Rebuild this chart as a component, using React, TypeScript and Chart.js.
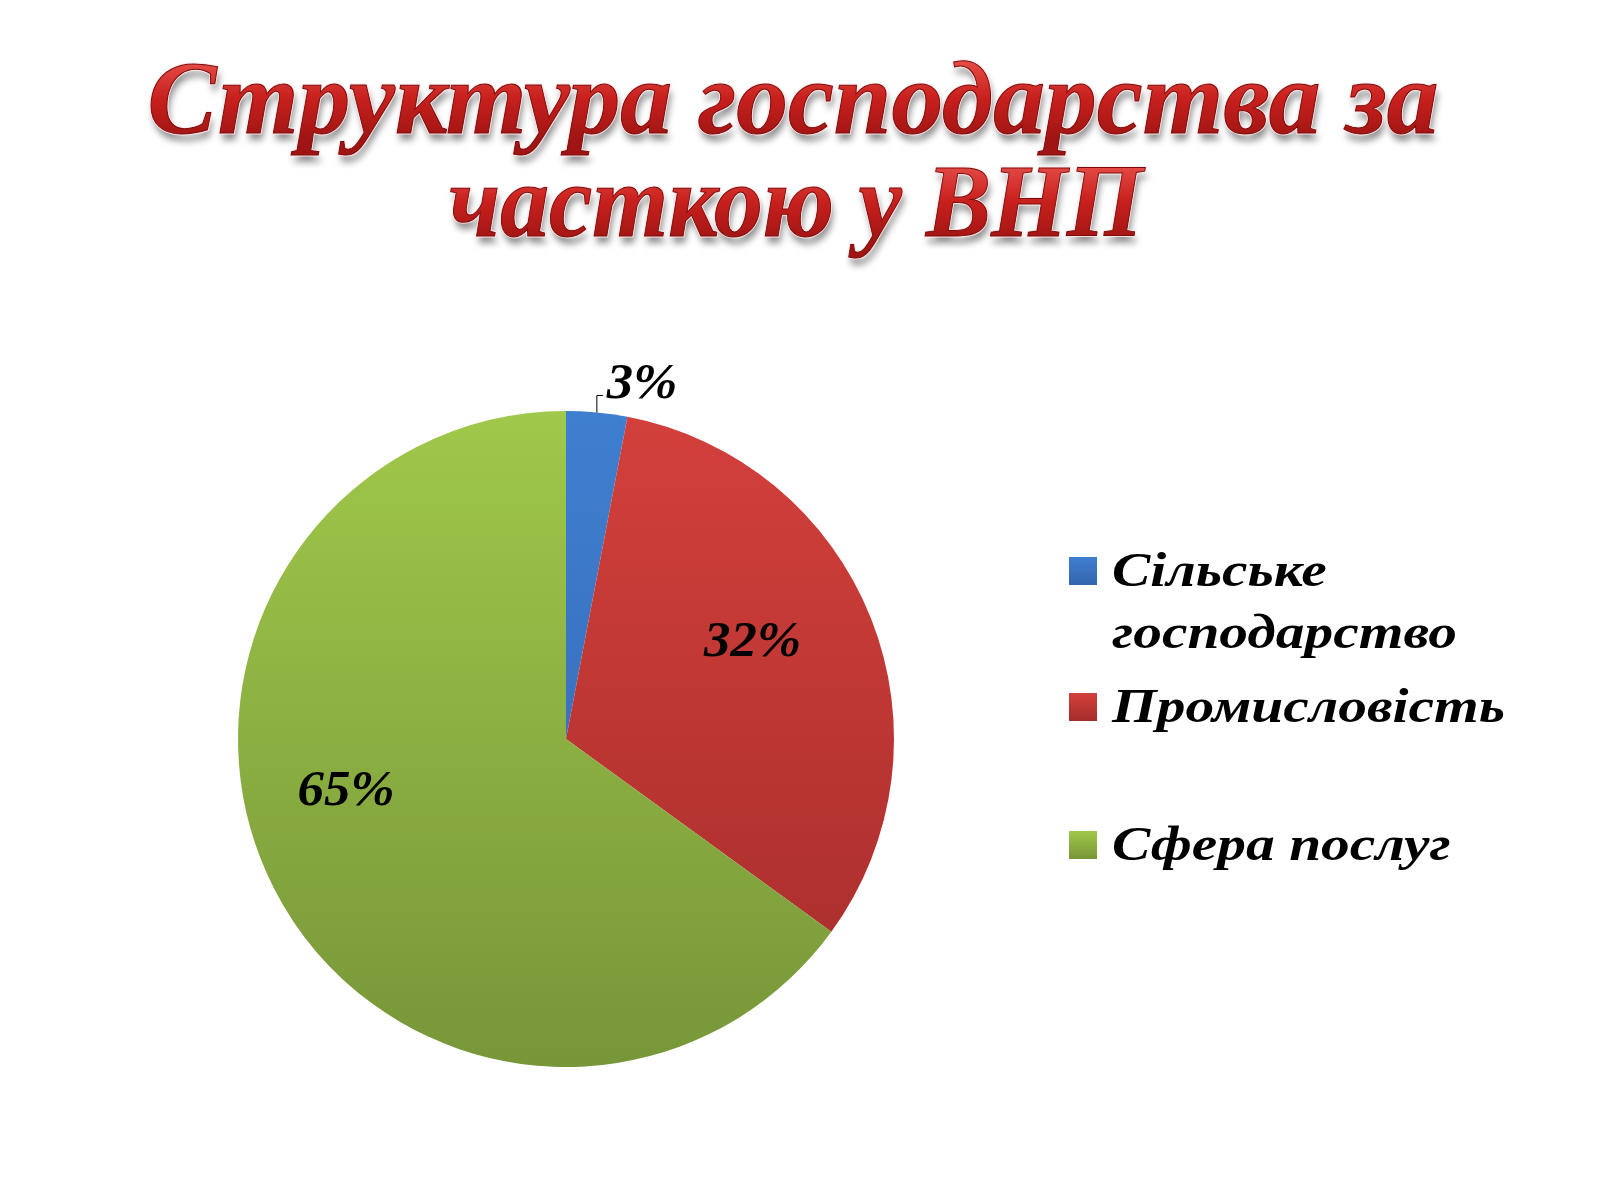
import React, { useEffect, useRef } from "react";
import { Chart, registerables } from "chart.js";

Chart.register(...registerables);

// ---- data ----
const categories: string[] = ["Сільське господарство", "Промисловість", "Сфера послуг"];
const legendLines: string[][] = [["Сільське", "господарство"], ["Промисловість"], ["Сфера послуг"]];
const shares: number[] = [3, 32, 65];
const titleLines: string[] = ["Структура господарства за", "часткою у ВНП"];

// ---- styles ----
const topColors = ["#3f7fd0", "#d3403c", "#a0c84a"];
const bottomColors = ["#3364ad", "#a42c2a", "#779639"];
const FONT = "'Liberation Serif', 'DejaVu Serif', serif";
// label placement (angle shift in rad, radius fraction) for inside labels
const labelShift = [0, -0.1, 0.235];
const labelFrac = [0, 0.64, 0.69];

const titlePlugin = {
  id: "slideTitle",
  afterDraw(chart: any) {
    const ctx = chart.ctx as CanvasRenderingContext2D;
    const specs = [
      { text: titleLines[0], cx: 793, base: 133, width: 1291 },
      { text: titleLines[1], cx: 796, base: 236, width: 694 },
    ];
    ctx.save();
    ctx.font = `italic bold 104px ${FONT}`;
    ctx.textAlign = "center";
    ctx.textBaseline = "alphabetic";
    for (const s of specs) {
      const w = ctx.measureText(s.text).width;
      const sx = s.width / w;
      ctx.save();
      ctx.translate(s.cx, s.base);
      ctx.scale(sx, 1);
      ctx.shadowColor = "rgba(0,0,0,0.45)";
      ctx.shadowBlur = 7;
      ctx.shadowOffsetX = 2;
      ctx.shadowOffsetY = 7;
      ctx.fillStyle = "#8a1414";
      ctx.fillText(s.text, 0, 0);
      ctx.shadowColor = "transparent";
      ctx.lineWidth = 3;
      ctx.strokeStyle = "rgba(255,230,230,0.9)";
      ctx.strokeText(s.text, 0, 0);
      const g = ctx.createLinearGradient(0, -75, 0, 5);
      g.addColorStop(0, "#e8504a");
      g.addColorStop(0.5, "#c8201d");
      g.addColorStop(1, "#a01513");
      ctx.fillStyle = g;
      ctx.fillText(s.text, 0, 0);
      ctx.lineWidth = 1;
      ctx.strokeStyle = "#7a0c0c";
      ctx.strokeText(s.text, 0, 0);
      ctx.restore();
    }
    ctx.restore();
  },
};

const legendPlugin = {
  id: "sideLegend",
  afterDraw(chart: any) {
    const ctx = chart.ctx as CanvasRenderingContext2D;
    const rowY = [571, 707, 845];
    const lineGap = 62;
    ctx.save();
    ctx.font = `italic bold 49px ${FONT}`;
    ctx.textAlign = "left";
    ctx.textBaseline = "middle";
    const sx = 393 / ctx.measureText(legendLines[1][0]).width;
    chart.data.labels.forEach((_: string, i: number) => {
      const y = rowY[i];
      const g = ctx.createLinearGradient(0, y - 14, 0, y + 14);
      g.addColorStop(0, topColors[i]);
      g.addColorStop(1, bottomColors[i]);
      ctx.fillStyle = g;
      ctx.fillRect(1069, y - 14, 28, 28);
      ctx.fillStyle = "#000";
      legendLines[i].forEach((ln, k) => {
        ctx.save();
        ctx.translate(1112, y + 2 + k * lineGap);
        ctx.scale(sx, 1);
        ctx.fillText(ln, 0, 0);
        ctx.restore();
      });
    });
    ctx.restore();
  },
};

const labelPlugin = {
  id: "pctLabels",
  afterDatasetsDraw(chart: any) {
    const ctx = chart.ctx as CanvasRenderingContext2D;
    const meta = chart.getDatasetMeta(0);
    const data = chart.data.datasets[0].data as number[];
    const total = data.reduce((a, b) => a + b, 0);
    ctx.save();
    ctx.font = `italic bold 50px ${FONT}`;
    const sx = 97 / ctx.measureText("32%").width;
    ctx.fillStyle = "#000";
    const draw = (txt: string, x: number, y: number, align: CanvasTextAlign) => {
      ctx.save();
      ctx.translate(x, y);
      ctx.scale(sx, 1);
      ctx.textAlign = align;
      ctx.textBaseline = "middle";
      ctx.fillText(txt, 0, 0);
      ctx.restore();
    };
    meta.data.forEach((arc: any, i: number) => {
      const { x, y, startAngle, endAngle, outerRadius } = arc.getProps(
        ["x", "y", "startAngle", "endAngle", "outerRadius"],
        true
      );
      const mid = (startAngle + endAngle) / 2;
      const txt = Math.round((data[i] / total) * 100) + "%";
      if (data[i] / total < 0.05) {
        const px = x + outerRadius * Math.cos(mid);
        const py = y + outerRadius * Math.sin(mid);
        const ly = py - 17;
        ctx.strokeStyle = "#000";
        ctx.lineWidth = 1;
        ctx.beginPath();
        ctx.moveTo(px, py);
        ctx.lineTo(px, ly);
        ctx.lineTo(px + 6, ly);
        ctx.stroke();
        draw(txt, px + 10, ly - 10, "left");
      } else {
        const a = mid + labelShift[i];
        const r = outerRadius * labelFrac[i];
        draw(txt, x + r * Math.cos(a), y + r * Math.sin(a), "center");
      }
    });
    ctx.restore();
  },
};

export default function App() {
  const ref = useRef<HTMLCanvasElement | null>(null);
  useEffect(() => {
    if (!ref.current) return;
    const chart = new Chart(ref.current, {
      type: "pie",
      data: {
        labels: categories,
        datasets: [
          {
            data: shares,
            borderWidth: 0,
            backgroundColor: (c: any) => {
              const i = c.dataIndex;
              const area = c.chart.chartArea;
              if (!area) return topColors[i];
              const g = c.chart.ctx.createLinearGradient(0, area.top, 0, area.bottom);
              g.addColorStop(0, topColors[i]);
              g.addColorStop(1, bottomColors[i]);
              return g;
            },
          },
        ],
      },
      options: {
        responsive: false,
        animation: false,
        devicePixelRatio: 1,
        layout: { padding: { left: 238, right: 706, top: 411, bottom: 133 } },
        plugins: {
          legend: { display: false },
          title: { display: false },
          tooltip: { enabled: false },
        },
      },
      plugins: [titlePlugin, legendPlugin, labelPlugin],
    });
    return () => chart.destroy();
  }, []);
  return (
    <div style={{ position: "absolute", left: 0, top: 0, width: 1600, height: 1200, background: "#fff" }}>
      <canvas ref={ref} width={1600} height={1200} style={{ width: 1600, height: 1200 }} />
    </div>
  );
}
